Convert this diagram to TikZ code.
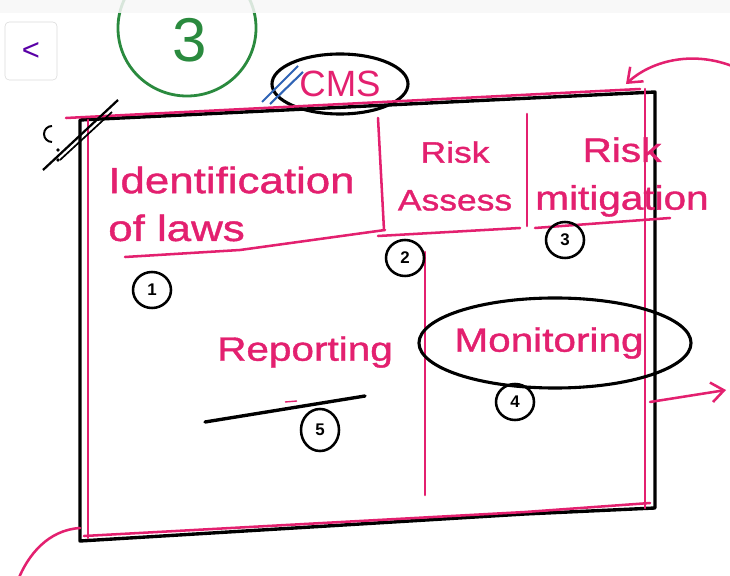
\documentclass[tikz,border=0pt]{standalone}
\usepackage{fontspec}
\setmainfont{Liberation Sans}
\newfontfamily\inkfont[FakeStretch=1.2, FakeBold=1.2]{Liberation Sans}
\usetikzlibrary{shapes.geometric, arrows.meta, positioning, backgrounds}
\definecolor{inkpink}{HTML}{E3206F}
\definecolor{inkgreen}{HTML}{2A8A3E}
\definecolor{inkblue}{HTML}{2F63B5}
\tikzset{
  frame/.style ={draw=black, line width=2.4pt, line join=round, line cap=round},
  band/.style  ={draw=inkpink, line width=1.8pt, line join=round, line cap=round},
  cell/.style  ={text=inkpink, align=center, inner sep=0pt,
                 font=\inkfont\fontsize{24}{34}\selectfont},
  num/.style   ={ellipse, draw=black, line width=1.8pt, inner sep=1pt,
                 minimum width=0.95cm, minimum height=0.9cm, font=\bfseries\large},
  ring/.style  ={ellipse, draw=black, line width=2.2pt},
  flow/.style  ={-{Straight Barb[length=9pt, width=14pt]}, draw=inkpink,
                 line width=1.8pt, line cap=round},
}

\begin{document}
\begin{tikzpicture}[x=0.025cm, y=-0.025cm]
  \useasboundingbox (0,0) rectangle (730,576);

  % header
  \node[ellipse, draw=inkgreen, line width=2pt, minimum width=3.45cm,
        minimum height=3.4cm] (greenring) at (187,28) {};
  \node[text=inkgreen, font=\fontsize{44}{44}\selectfont] (three) at (190,40) {3};
  \fill[gray!6, opacity=0.85] (0,0) rectangle (730,13);
  \node[draw=gray!30, rounded corners=3pt, minimum width=1.3cm, minimum height=1.45cm,
        text=violet!70!blue, font=\fontsize{22}{22}\selectfont] (back) at (31,51) {<};

  \node[ring, minimum width=3.4cm, minimum height=1.5cm, text=inkpink,
        font=\fontsize{26}{26}\selectfont] (cms) at (340,84) {CMS};
  \draw[inkblue, line width=1.5pt] (262,102) -- (298,66);
  \draw[inkblue, line width=1.5pt] (270,104) -- (303,72);

  % box
  \draw[frame] (80,120) -- (655,92) -- (655,508) -- (525,514) -- (80,541) -- cycle;
  \draw[band] (66,118) -- (640,89);
  \draw[band] (88,120) -- (88,538);
  \draw[band] (645,89) -- (645,508);
  \draw[band] (84,536) -- (525,512) -- (650,503);

  % top row cells
  \draw[band] (378,118) -- (384,230);
  \draw[band] (527,114) -- (527,226);
  \draw[band] (125,257) -- (240,250) -- (385,230);
  \draw[band] (378,236) -- (520,228);
  \draw[band] (535,228) -- (670,218);
  \draw[band] (425,252) -- (425,495);

  \node[cell, align=left, anchor=west, font=\inkfont\fontsize{26}{34}\selectfont]
       (ident) at (108,204) {Identification\\of laws};
  \node[cell, font=\inkfont\fontsize{21}{34}\selectfont] (assess) at (455,176) {Risk\\Assess};
  \node[cell] (mitig)  at (622,177) {Risk\\mitigation};
  \node[cell] (report) at (305,352) {Reporting};
  \node[cell] (monit)  at (549,343) {Monitoring};
  \node[ring, minimum width=6.8cm, minimum height=2.25cm] (monring) at (555,343) {};

  \node[num] (n1) at (152,290) {1};
  \node[num] (n2) at (405,258) {2};
  \node[num] (n3) at (565,240) {3};
  \node[num] (n4) at (515,402) {4};
  \node[num, minimum height=1.05cm] (n5) at (320,430) {5};

  \draw[frame] (205,422) -- (365,396);
  \draw[inkpink, line width=1pt] (285,402) -- (297,401);

  % corner marks
  \draw[black, line width=1.6pt] (43,170) -- (118,100);
  \draw[black, line width=1.2pt] (60,160) -- (112,112);
  \draw[black, line width=1.4pt] (52,142) arc (90:270:8);
  \fill (58,150) circle (1.8) (58,160) circle (1.8);

  % arrows
  \coordinate (inR)  at (732,66);
  \coordinate (topC) at (626,84);
  \coordinate (outL) at (650,402);
  \coordinate (outR) at (726,390);
  \coordinate (btmA) at (80,528);
  \coordinate (btmB) at (18,580);
  \draw[flow] (inR) .. controls (690,50) and (650,62) .. (topC);
  \draw[flow] (outL) -- (outR);
  \draw[band] (btmA) .. controls (48,530) and (28,555) .. (btmB);
\end{tikzpicture}
\end{document}
